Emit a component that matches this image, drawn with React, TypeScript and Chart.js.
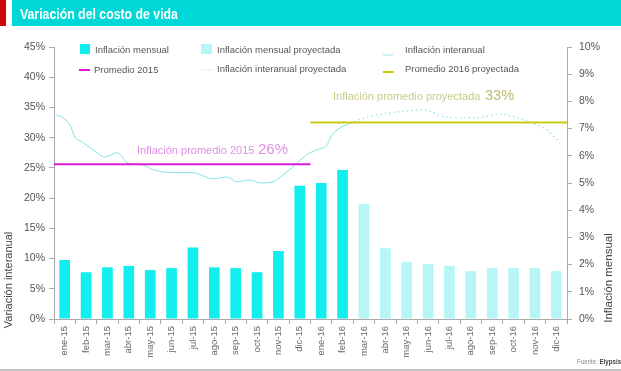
import React, { useEffect, useRef } from "react";
import Chart from "chart.js/auto";

const months = ["ene-15","feb-15","mar-15","abr-15","may-15","jun-15","jul-15","ago-15","sep-15","oct-15","nov-15","dic-15","ene-16","feb-16","mar-16","abr-16","may-16","jun-16","jul-16","ago-16","sep-16","oct-16","nov-16","dic-16"];
const mensual = [2.17,1.72,1.9,1.95,1.8,1.87,2.63,1.9,1.87,1.72,2.5,4.9,5.0,5.48,null,null,null,null,null,null,null,null,null,null];
const mensualProy = [null,null,null,null,null,null,null,null,null,null,null,null,null,null,4.23,2.6,2.1,2.02,1.95,1.76,1.87,1.87,1.87,1.76];

// interanual: month position (index) and value (%)
const interanualPos = [-0.5,-0.08,0.25,0.48,0.81,1.32,1.89,2.45,2.96,3.66,4.13,5.25,6.0,6.94,7.59,8.06,8.67,9.14,9.75,10.21,10.77,11.47,11.8,12.27,12.5,12.88,13.35];
const interanualVal = [33.8,33.3,32.1,30.1,29.3,28.0,26.8,27.5,25.8,25.5,24.7,24.2,24.2,23.2,23.5,22.7,23.0,22.5,22.7,23.8,25.5,27.5,28.0,28.8,30.4,31.6,32.4];
const proyPos = [13.35,14.14,15.22,16.76,17.88,19.29,20.36,21.15,22.09,22.56,23.17];
const proyVal = [32.4,33.4,34.1,34.6,33.4,33.3,33.9,33.3,32.1,31.3,29.1];

const prom2015Pos = [-0.5, 11.5];
const prom2015Val = [25.6, 25.6];
const prom2016Pos = [11.5, 23.5];
const prom2016Val = [32.5, 32.5];

const C_MENSUAL = "#12eeee";
const C_PROY = "#b6f6f6";
const C_LINE = "#7fe2e4";
const C_MAG = "#e019d6";
const C_YEL = "#c9c914";

const pts = (xs: number[], ys: number[]) => xs.map((x, i) => ({ x, y: ys[i] }));

const overlay = {
  id: "overlay",
  afterDraw(chart: any) {
    const ctx = chart.ctx as CanvasRenderingContext2D;
    const W = chart.width;
    ctx.save();
    // title bar
    ctx.fillStyle = "#cc0a0a";
    ctx.fillRect(0, 0, 6, 26);
    ctx.fillStyle = "#00d8d8";
    ctx.fillRect(12, 0, W - 12, 26);
    ctx.fillStyle = "#ffffff";
    ctx.font = "bold 15px 'Liberation Sans', sans-serif";
    ctx.textBaseline = "alphabetic";
    ctx.textAlign = "left";
    ctx.save();
    ctx.translate(20, 19);
    ctx.scale(0.82, 1);
    ctx.fillText("Variación del costo de vida", 0, 0);
    ctx.restore();

    // footer
    ctx.fillStyle = "#c4c4c4";
    ctx.fillRect(0, 369, W, 2);
    ctx.textBaseline = "middle";
    ctx.save();
    ctx.translate(577, 362);
    ctx.scale(0.82, 1);
    ctx.font = "7.5px 'Liberation Sans', sans-serif";
    ctx.fillStyle = "#888";
    ctx.fillText("Fuente:", 0, 0);
    const fw = ctx.measureText("Fuente: ").width;
    ctx.font = "bold 7.5px 'Liberation Sans', sans-serif";
    ctx.fillStyle = "#444";
    ctx.fillText("Elypsis", fw, 0);
    ctx.restore();

    // axis titles
    ctx.font = "11px 'Liberation Sans', sans-serif";
    ctx.fillStyle = "#444";
    ctx.textAlign = "center";
    ctx.textBaseline = "middle";
    ctx.save();
    ctx.translate(9, 280);
    ctx.rotate(-Math.PI / 2);
    ctx.fillText("Variación interanual", 0, 0);
    ctx.restore();
    ctx.save();
    ctx.translate(609, 278);
    ctx.rotate(-Math.PI / 2);
    ctx.font = "11.5px 'Liberation Sans', sans-serif";
    ctx.fillText("Inflación mensual", 0, 0);
    ctx.restore();

    // legend
    ctx.font = "9.5px 'Liberation Sans', sans-serif";
    ctx.textAlign = "left";
    ctx.textBaseline = "middle";
    const tc = "#555";
    ctx.fillStyle = C_MENSUAL;
    ctx.fillRect(80, 44, 10, 10);
    ctx.fillStyle = tc;
    ctx.fillText("Inflación mensual", 95, 50);
    ctx.fillStyle = C_PROY;
    ctx.fillRect(201, 44, 11, 10);
    ctx.fillStyle = tc;
    ctx.fillText("Inflación mensual proyectada", 217, 50);
    ctx.strokeStyle = "#bfeff2";
    ctx.lineWidth = 1.5;
    ctx.beginPath(); ctx.moveTo(383, 55); ctx.lineTo(393, 55); ctx.stroke();
    ctx.fillStyle = tc;
    ctx.fillText("Inflación interanual", 405, 50);

    ctx.strokeStyle = C_MAG;
    ctx.lineWidth = 2;
    ctx.beginPath(); ctx.moveTo(79, 70); ctx.lineTo(90, 70); ctx.stroke();
    ctx.fillStyle = tc;
    ctx.fillText("Promedio 2015", 94, 70);
    ctx.strokeStyle = C_LINE;
    ctx.lineWidth = 1;
    ctx.setLineDash([1, 2.5]);
    ctx.beginPath(); ctx.moveTo(202, 70); ctx.lineTo(213, 70); ctx.stroke();
    ctx.setLineDash([]);
    ctx.fillStyle = tc;
    ctx.fillText("Inflación interanual proyectada", 217, 69);
    ctx.strokeStyle = C_YEL;
    ctx.lineWidth = 2;
    ctx.beginPath(); ctx.moveTo(383, 72); ctx.lineTo(394, 72); ctx.stroke();
    ctx.fillStyle = tc;
    ctx.fillText("Promedio 2016 proyectada", 405, 69);

    // annotations
    ctx.fillStyle = "#e08fe6";
    ctx.font = "11px 'Liberation Sans', sans-serif";
    ctx.fillText("Inflación promedio 2015", 137, 151);
    ctx.font = "15px 'Liberation Sans', sans-serif";
    ctx.fillText("26%", 258, 150);
    ctx.fillStyle = "#caca8c";
    ctx.font = "11px 'Liberation Sans', sans-serif";
    ctx.fillText("Inflación promedio proyectada", 333, 97);
    ctx.fillStyle = "#bcbc6e";
    ctx.font = "14.5px 'Liberation Sans', sans-serif";
    ctx.fillText("33%", 485, 96);
    ctx.restore();
  },
};

export default function App() {
  const ref = useRef<HTMLCanvasElement>(null);
  useEffect(() => {
    if (!ref.current) return;
    const tickFont = { family: "'Liberation Sans', sans-serif", size: 10 };
    const gridOpts = { display: true, drawOnChartArea: false, color: "#aaa", tickLength: 5 };
    const chart = new Chart(ref.current, {
      type: "bar",
      data: {
        labels: months,
        datasets: [
          { type: "line", data: pts(prom2015Pos, prom2015Val), xAxisID: "x2", yAxisID: "y", borderColor: C_MAG, borderWidth: 2, pointRadius: 0, order: 0 } as any,
          { type: "line", data: pts(prom2016Pos, prom2016Val), xAxisID: "x2", yAxisID: "y", borderColor: C_YEL, borderWidth: 2, pointRadius: 0, order: 0 } as any,
          { type: "line", data: pts(interanualPos, interanualVal), xAxisID: "x2", yAxisID: "y", borderColor: C_LINE, borderWidth: 1, pointRadius: 0, cubicInterpolationMode: "monotone", order: 1 } as any,
          { type: "line", data: pts(proyPos, proyVal), xAxisID: "x2", yAxisID: "y", borderColor: "#96e4ee", borderWidth: 1.3, borderDash: [1.5, 3], pointRadius: 0, cubicInterpolationMode: "monotone", order: 1 } as any,
          { type: "bar", data: mensual, xAxisID: "x", yAxisID: "y1", backgroundColor: C_MENSUAL, grouped: false, barPercentage: 0.5, categoryPercentage: 1, order: 2 } as any,
          { type: "bar", data: mensualProy, xAxisID: "x", yAxisID: "y1", backgroundColor: C_PROY, grouped: false, barPercentage: 0.5, categoryPercentage: 1, order: 2 } as any,
        ],
      },
      options: {
        responsive: false,
        animation: false,
        layout: { padding: { top: 47, left: 0, right: 0, bottom: 0 } },
        plugins: { legend: { display: false }, tooltip: { enabled: false } },
        scales: {
          x: {
            type: "category",
            position: "bottom",
            grid: { ...gridOpts, offset: true },
            border: { color: "#aaa" },
            ticks: { font: { ...tickFont, size: 9.5 }, color: "#666", minRotation: 90, maxRotation: 90, autoSkip: false, padding: 2 },
            afterFit: (s: any) => { s.height = 52; },
          },
          x2: { type: "linear", display: false, min: -0.5, max: 23.5, offset: false, grace: 0 },
          y: {
            position: "left",
            min: 0, max: 45,
            ticks: { stepSize: 5, font: { ...tickFont, size: 10.5 }, color: "#555", callback: (v: any) => v + "%", padding: 4 },
            grid: gridOpts,
            border: { color: "#aaa" },
            afterFit: (s: any) => { s.width = 54; },
          },
          y1: {
            position: "right",
            min: 0, max: 10,
            ticks: { stepSize: 1, font: { ...tickFont, size: 10.5 }, color: "#555", callback: (v: any) => v + "%", padding: 7 },
            grid: gridOpts,
            border: { color: "#aaa" },
            afterFit: (s: any) => { s.width = 54; },
          },
        },
      } as any,
      plugins: [overlay],
    });
    return () => chart.destroy();
  }, []);
  return (
    <div style={{ position: "fixed", left: 0, top: 0, width: 621, height: 371, background: "#fff" }}>
      <canvas ref={ref} width={621} height={371} style={{ display: "block", width: 621, height: 371 }} />
    </div>
  );
}
